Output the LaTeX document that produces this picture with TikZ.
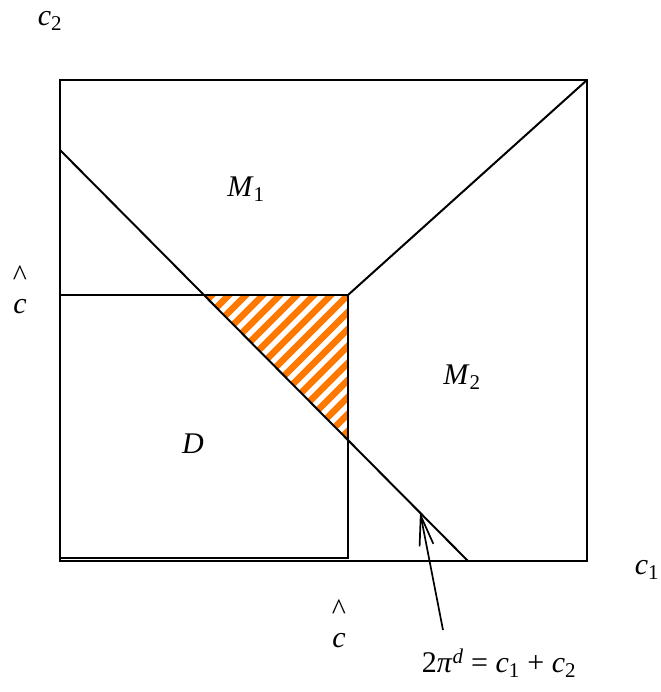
\documentclass[tikz,border=0pt]{standalone}
\usepackage{fontspec}
\setmainfont{Liberation Serif}
\usetikzlibrary{arrows.meta}
\tikzset{
  edge/.style={line width=2pt, black},
  lbl/.style={font=\fontsize{30}{34}\selectfont, inner sep=0pt},
  hatchline/.style={line width=6.5pt, color=orange!95!red},
  pointer/.style={line width=1.7pt, -{Straight Barb[length=30pt,width=14pt,line width=1.7pt]}}
}
\newcommand{\vsub}[2]{\textit{#1}\textsubscript{#2}}
\begin{document}
\begin{tikzpicture}[x=1pt,y=-1pt]
\useasboundingbox (0,0) rectangle (660,692);
% key corners
\coordinate (ol) at (60,80);
\coordinate (or) at (587,80);
\coordinate (bl) at (60,561);
\coordinate (br) at (587,561);
\coordinate (dtop) at (60,295);
\coordinate (dcorner) at (348,295);
\coordinate (dbot) at (348,558);
\coordinate (dbl) at (60,558);
\coordinate (la) at (60,150);
\coordinate (lb) at (468,561);
\coordinate (ta) at (205,295);
\coordinate (tb) at (348,439);
% hatched triangle
\begin{scope}
  \clip (ta) -- (dcorner) -- (tb) -- cycle;
  \foreach \k in {490,507,...,800} {
    \draw[hatchline] (\k-150,150) -- (\k-500,500);
  }
\end{scope}
% outer box
\draw[edge] (ol) rectangle (br);
% D box
\draw[edge] (dtop) -- (dcorner) -- (dbot) -- (dbl);
% diagonal line
\draw[edge] (la) -- (lb);
% line to top right corner
\draw[edge] (dcorner) -- (or);
% pointer arrow
\coordinate (tip) at (420,512);
\coordinate (tail) at (443,630);
\draw[pointer] (tail) -- (tip);
% labels
\node[lbl] (c2) at (50,21) {\vsub{c}{2}};
\node[lbl] (c1) at (647,570) {\vsub{c}{1}};
\node[lbl,align=center] (chatl) at (20,290) {\textasciicircum\\[-6pt]\textit{c}};
\node[lbl,align=center] (chatb) at (339,624) {\textasciicircum\\[-6pt]\textit{c}};
\node[lbl] (m1) at (246,189) {\vsub{M}{1}};
\node[lbl] (m2) at (462,377) {\vsub{M}{2}};
\node[lbl] (d) at (193,444) {\textit{D}};
\node[lbl] (eq) at (499,663) {2\textit{π}\textsuperscript{\textit{d}} = \vsub{c}{1} + \vsub{c}{2}};
\end{tikzpicture}
\end{document}
